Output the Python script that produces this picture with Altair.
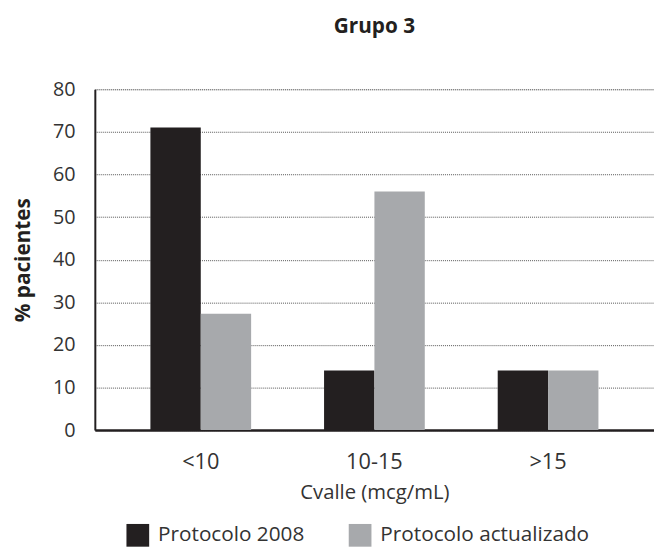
import altair as alt
import pandas as pd

categories = ["<10", "10-15", ">15"]
series = ["Protocolo 2008", "Protocolo actualizado"]
protocolo_2008 = [71, 14, 14]
protocolo_actualizado = [27.3, 56, 14]
colors = ["#231f20", "#a7a9ac"]

rows = []
for c, a, b in zip(categories, protocolo_2008, protocolo_actualizado):
    rows.append({"cat": c, "serie": series[0], "val": a})
    rows.append({"cat": c, "serie": series[1], "val": b})
df = pd.DataFrame(rows)

FONT = "Open Sans"

chart = alt.Chart(df).mark_bar().encode(
    x=alt.X("cat:N", sort=categories, title="Cvalle (mcg/mL)",
            scale=alt.Scale(paddingInner=0.42, paddingOuter=0.32),
            axis=alt.Axis(labelAngle=0, ticks=False, labelPadding=22,
                          labelFontSize=22, labelColor="#333333",
                          titleFontSize=20.5, titleFontWeight="normal",
                          titleColor="#333333", titlePadding=10,
                          domainColor="#231f20", domainWidth=2.5,
                          grid=False, labelFont=FONT, titleFont=FONT)),
    xOffset=alt.XOffset("serie:N", sort=series),
    y=alt.Y("val:Q", title="% pacientes",
            scale=alt.Scale(domain=[0, 80], nice=False),
            axis=alt.Axis(values=list(range(0, 90, 10)), ticks=False,
                          labelPadding=20, labelFontSize=20,
                          labelColor="#333333", titleFontSize=21,
                          titleFontWeight="bold", titleColor="#231f20",
                          titlePadding=19, domainColor="#231f20",
                          domainWidth=2, grid=True, gridDash=[1, 1],
                          gridColor="#555555", gridWidth=1,
                          labelFont=FONT, titleFont=FONT)),
    color=alt.Color("serie:N", sort=series,
                    scale=alt.Scale(domain=series, range=colors),
                    legend=alt.Legend(title=None, orient="none",
                                      legendX=32, legendY=440,
                                      direction="horizontal",
                                      symbolType="square", symbolSize=529,
                                      symbolStrokeWidth=0,
                                      labelFontSize=21, labelColor="#333333",
                                      labelFont=FONT, columnPadding=44,
                                      labelOffset=9, labelLimit=400)),
).properties(
    width=566,
    height=345,
    title=alt.TitleParams("Grupo 3", fontSize=21, fontWeight="bold",
                          color="#231f20", font=FONT, anchor="middle",
                          offset=43),
).configure_view(stroke=None).configure(
    autosize=alt.AutoSizeParams(type="none"),
    padding={"left": 96, "top": 87, "right": 0, "bottom": 119},
)

chart.save("out.html", embed_options={"renderer": "svg", "actions": False})
